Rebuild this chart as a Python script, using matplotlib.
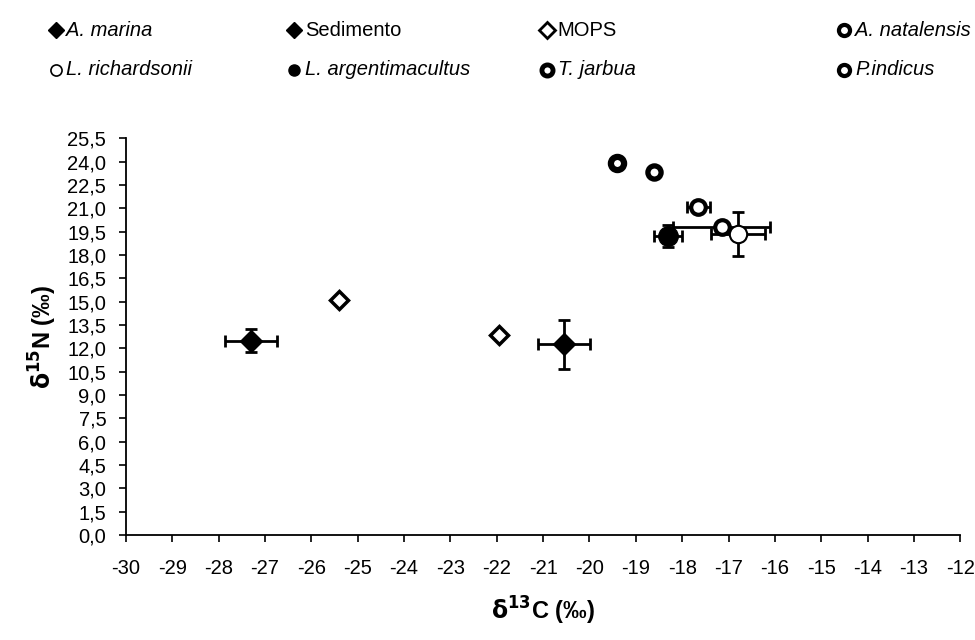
import matplotlib
matplotlib.use("Agg")
import matplotlib.pyplot as plt
from matplotlib.lines import Line2D
from matplotlib.ticker import FuncFormatter, MultipleLocator

plt.rcParams['font.family'] = ['Liberation Sans', 'DejaVu Sans']

# mean values (d13C, d15N) and standard deviations per group
marina_x, marina_y = [-27.3], [12.5]
marina_xerr, marina_yerr = [0.57], [0.76]

sed_x, sed_y = [-20.55], [12.25]
sed_xerr, sed_yerr = [0.57], [1.55]

mops_x, mops_y = [-25.4, -21.95], [15.1, 12.85]

natal_x, natal_y = [-17.65, -17.15], [21.1, 19.8]
natal_xerr, natal_yerr = [0.25, 1.05], [0.0, 0.3]

rich_x, rich_y = [-16.8], [19.35]
rich_xerr, rich_yerr = [0.58], [1.4]

argent_x, argent_y = [-18.3], [19.2]
argent_xerr, argent_yerr = [0.3], [0.7]

jarbua_x, jarbua_y = [-19.4], [23.9]
indicus_x, indicus_y = [-18.6], [23.35]

fig = plt.figure(figsize=(9.75, 6.4), dpi=100)
ax = fig.add_axes([0.129, 0.164, 0.856, 0.62])

eb = dict(fmt='none', ecolor='black', elinewidth=2, capsize=4, capthick=2, zorder=2)

ax.errorbar(marina_x, marina_y, xerr=marina_xerr, yerr=marina_yerr, **eb)
ax.plot(marina_x, marina_y, 'D', ms=11, mfc='black', mec='black', zorder=3)

ax.errorbar(sed_x, sed_y, xerr=sed_xerr, yerr=sed_yerr, **eb)
ax.plot(sed_x, sed_y, 'D', ms=11, mfc='black', mec='black', zorder=3)

ax.plot(mops_x, mops_y, 'D', ms=9.5, mfc='white', mec='black', mew=2.5, zorder=3)

ax.errorbar(argent_x, argent_y, xerr=argent_xerr, yerr=argent_yerr, **eb)
ax.plot(argent_x, argent_y, 'o', ms=14, mfc='black', mec='black', zorder=3)

ax.errorbar(natal_x, natal_y, xerr=natal_xerr, yerr=natal_yerr, **eb)
ax.plot(natal_x, natal_y, 'o', ms=10.5, mfc='white', mec='black', mew=3, zorder=4)

ax.errorbar(rich_x, rich_y, xerr=rich_xerr, yerr=rich_yerr, **eb)
ax.plot(rich_x, rich_y, 'o', ms=12.5, mfc='white', mec='black', mew=1.5, zorder=5)

ax.plot(jarbua_x, jarbua_y, 'o', ms=9.5, mfc='white', mec='black', mew=4.5, zorder=3)
ax.plot(indicus_x, indicus_y, 'o', ms=9.5, mfc='white', mec='black', mew=3.8, zorder=3)

ax.set_xlim(-30, -12)
ax.set_ylim(0, 25.5)
ax.xaxis.set_major_locator(MultipleLocator(1))
ax.yaxis.set_major_locator(MultipleLocator(1.5))
ax.yaxis.set_major_formatter(FuncFormatter(lambda v, p: f"{v:.1f}".replace('.', ',')))
ax.xaxis.set_major_formatter(FuncFormatter(lambda v, p: f"{v:.0f}"))

for s in ['top', 'right']:
    ax.spines[s].set_visible(False)
for s in ['left', 'bottom']:
    ax.spines[s].set_linewidth(1.3)
ax.tick_params(direction='out', length=5, width=1.2, labelsize=14.5)
ax.tick_params(axis='x', pad=12)
ax.tick_params(axis='y', pad=9)

ax.set_xlabel(r'$\mathbf{\delta}^{\mathbf{13}}$C (‰)', fontsize=17, fontweight='bold', labelpad=12)
ax.set_ylabel(r'$\mathbf{\delta}^{\mathbf{15}}$N (‰)', fontsize=17, fontweight='bold', labelpad=6)

# legend laid out as a 2x4 grid above the plot
entries = [
    ('D', 'black', 1.0, 'A. marina', 'italic'),
    ('D', 'black', 1.0, 'Sedimento', 'normal'),
    ('D', 'white', 2.0, 'MOPS', 'normal'),
    ('o', 'white', 3.0, 'A. natalensis', 'italic'),
    ('o', 'white', 1.2, 'L. richardsonii', 'italic'),
    ('o', 'black', 1.0, 'L. argentimacultus', 'italic'),
    ('o', 'white', 3.5, 'T. jarbua', 'italic'),
    ('o', 'white', 3.0, 'P.indicus', 'italic'),
]
col_x = [0.057, 0.302, 0.561, 0.866]
row_y = [0.953, 0.891]
for i, (mk, fc, mw, label, style) in enumerate(entries):
    x0 = col_x[i % 4]
    y0 = row_y[i // 4]
    fig.add_artist(Line2D([x0], [y0], marker=mk, ms=8, mfc=fc, mec='black', mew=mw,
                          transform=fig.transFigure))
    fig.text(x0 + 0.011, y0, label, fontsize=14.5, style=style, va='center', ha='left')

fig.savefig('out.png', dpi=100)
